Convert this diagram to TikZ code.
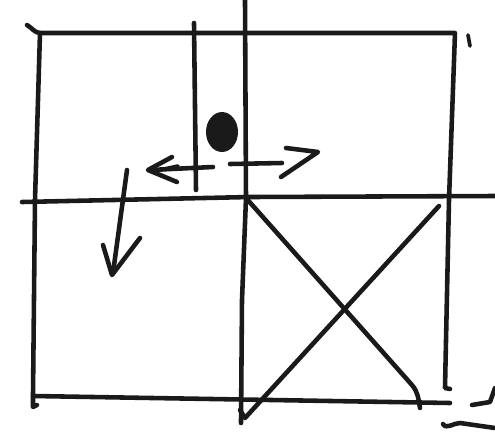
\documentclass[tikz,border=0pt]{standalone}
\usepackage{tikz}
\usetikzlibrary{arrows.meta, calc}
\definecolor{ink}{HTML}{1A1A1A}

\begin{document}
\begin{tikzpicture}[x=0.02cm, y=-0.02cm,
    pen/.style={ink, line width=2.6pt, line cap=round, line join=round},
    thinpen/.style={ink, line width=2.1pt, line cap=round, line join=round}]
  \useasboundingbox (0,0) rectangle (495,434);
  % Rahmen
  \draw[pen] (27,25) to[out=-30,in=175] (40,33) -- (455,33) -- (449,200) -- (445,388) -- (450,389);
  \draw[pen] (40,33) -- (35,200) -- (33,395) -- (33,407) -- (37,405);
  \draw[pen] (33,396) -- (450,403);
  % kleine Marke oben rechts
  \draw[thinpen] (468,35) -- (470,46);
  % Mittellinien
  \draw[pen] (22,202) -- (250,197) -- (495,196);
  \draw[pen] (245,0) -- (246,198) -- (242,300) -- (241,423);
  \draw[pen] (194,23) -- (196,190);
  % Punkt
  \fill[ink] (222,132) ellipse (16 and 20);
  % Pfeil links
  \draw[pen] (213,167) -- (150,170);
  \draw[pen] (172,157) -- (148,170) -- (177,182);
  \draw[thinpen] (178,166) -- (160,170);
  % Pfeil rechts
  \draw[pen] (230,164) -- (282,163);
  \draw[pen] (286,148) -- (318,152) -- (281,177);
  % Pfeil nach unten
  \draw[pen] (127,170) -- (113,273);
  \draw[pen] (103,245) -- (112,275) -- (140,238);
  % Kreuz
  \draw[pen] (246,198) -- (412,385) to[out=-50,in=100] (420,408);
  \draw[pen] (439,206) -- (245,418) -- (240,410);
  % Marken unten rechts
  \draw[pen] (472,405) -- (490,402) -- (495,388);
  \draw[pen] (443,424) to[out=-60,in=180] (460,423) -- (495,428);
\end{tikzpicture}
\end{document}
